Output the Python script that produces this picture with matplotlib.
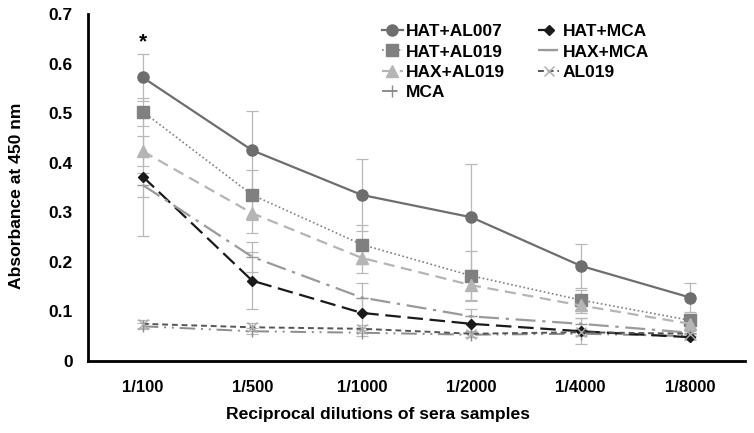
import matplotlib
matplotlib.use("Agg")
import matplotlib.pyplot as plt

plt.rcParams['font.family'] = ['Liberation Sans', 'DejaVu Sans']
plt.rcParams['font.weight'] = 'bold'

dilutions = ["1/100", "1/500", "1/1000", "1/2000", "1/4000", "1/8000"]
hat_al007 = [0.572, 0.425, 0.335, 0.290, 0.192, 0.128]
hat_al019 = [0.503, 0.335, 0.235, 0.172, 0.123, 0.082]
hax_al019 = [0.423, 0.298, 0.208, 0.153, 0.112, 0.075]
mca = [0.070, 0.060, 0.057, 0.053, 0.055, 0.050]
hat_mca = [0.372, 0.162, 0.097, 0.075, 0.060, 0.048]
hax_mca = [0.355, 0.210, 0.128, 0.090, 0.075, 0.057]
al019 = [0.075, 0.068, 0.065, 0.055, 0.058, 0.055]

err_hat_al007 = [0.048, 0.080, 0.073, 0.108, 0.045, 0.030]
err_hat_al019 = [0.028, 0.050, 0.040, 0.050, 0.020, 0.012]
err_hax_al019 = [0.030, 0.040, 0.030, 0.030, 0.015, 0.010]
err_mca = [0.006, 0.006, 0.006, 0.005, 0.005, 0.005]
err_hat_mca = [0.120, 0.057, 0.030, 0.015, 0.026, 0.006]
err_hax_mca = [0.025, 0.030, 0.030, 0.015, 0.012, 0.008]
err_al019 = [0.008, 0.008, 0.008, 0.006, 0.006, 0.005]

series = [
    ("HAT+AL007", hat_al007, err_hat_al007, dict(color="#6e6e6e", ls="-", lw=1.6, marker="o", ms=8)),
    ("HAT+AL019", hat_al019, err_hat_al019, dict(color="#808080", ls=(0, (1, 1.5)), lw=1.2, marker="s", ms=8)),
    ("HAX+AL019", hax_al019, err_hax_al019, dict(color="#b5b5b5", ls=(0, (5, 3)), lw=1.6, marker="^", ms=8)),
    ("MCA", mca, err_mca, dict(color="#8c8c8c", ls=(0, (8, 3, 1, 3, 1, 3)), lw=1.4, marker="|", ms=8)),
    ("HAT+MCA", hat_mca, err_hat_mca, dict(color="#1a1a1a", ls=(0, (7, 3)), lw=1.6, marker="D", ms=5)),
    ("HAX+MCA", hax_mca, err_hax_mca, dict(color="#9a9a9a", ls=(0, (9, 3, 1.5, 3)), lw=1.6, marker="_", ms=8)),
    ("AL019", al019, err_al019, dict(color="#555555", ls=(0, (3, 2)), lw=1.4, marker="x", ms=7, mec="#aaaaaa")),
]

fig = plt.figure(figsize=(7.54, 4.33), dpi=100)
ax = fig.add_axes([88/754, 1 - 361/433, (745-88)/754, (361-14)/433])

x = list(range(len(dilutions)))
handles = []
for name, vals, errs, st in series:
    ax.errorbar(x, vals, yerr=errs, fmt="none", ecolor="#b8b8b8", elinewidth=0.9, capsize=4, capthick=0.9, zorder=1)
    h, = ax.plot(x, vals, label=name, zorder=3, **st)
    handles.append(h)

ax.text(0, 0.643, "*", ha="center", va="center", fontsize=15, fontweight="bold")

ax.set_xlim(-0.5, 5.5)
ax.set_ylim(0, 0.7)
ax.set_xticks(x)
ax.set_xticklabels(dilutions)
ax.set_yticks([0, 0.1, 0.2, 0.3, 0.4, 0.5, 0.6, 0.7])
ax.set_yticklabels(["0", "0.1", "0.2", "0.3", "0.4", "0.5", "0.6", "0.7"])
ax.tick_params(axis="x", length=0, labelsize=12, pad=14)
ax.tick_params(axis="y", length=0, labelsize=12.5, pad=11)
for lab in ax.get_xticklabels() + ax.get_yticklabels():
    lab.set_fontweight("bold")
ax.spines["top"].set_visible(False)
ax.spines["right"].set_visible(False)
ax.spines["left"].set_linewidth(2)
ax.spines["bottom"].set_linewidth(2)

fig.text(16.5/754, 1 - 196/433, "Absorbance at 450 nm", rotation=90, ha="center", va="center",
         fontsize=12.6, fontweight="bold")
fig.text(377.5/754, 1 - 415/433, "Reciprocal dilutions of sera samples", ha="center", va="center",
         fontsize=12.6, fontweight="bold")

leg = ax.legend(handles=handles, ncol=2, loc="upper left", bbox_to_anchor=((382-88)/657, (361-24)/347),
                frameon=False, handlelength=1.2, handletextpad=0.2, borderpad=0, borderaxespad=0,
                columnspacing=1.9, labelspacing=0.3, prop={"weight": "bold", "size": 12.5})

fig.savefig("out.png", dpi=100)
